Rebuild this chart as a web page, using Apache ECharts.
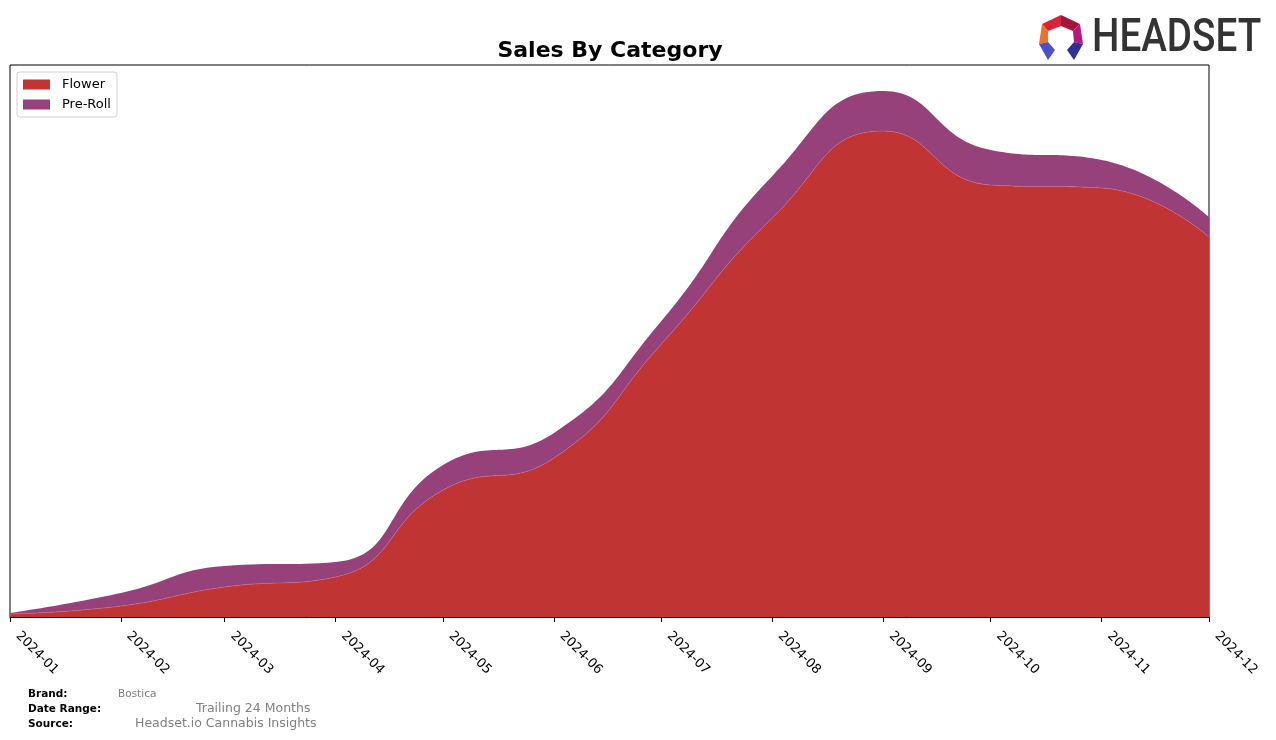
<!DOCTYPE html>
<html>
<head>
<meta charset="utf-8">
<script src="https://cdn.jsdelivr.net/npm/echarts@6/dist/echarts.min.js"></script>
<style>
html,body{margin:0;padding:0;background:#fff;}
#chart{width:1276px;height:740px;}
</style>
</head>
<body>
<div id="chart"></div>
<script>
// Month starts (x categories on a time axis)
const months = ['2024-01-01','2024-02-01','2024-03-01','2024-04-01','2024-05-01','2024-06-01',
                '2024-07-01','2024-08-01','2024-09-01','2024-10-01','2024-11-01','2024-12-01'];
// Values (relative units, no y scale shown)
const flower = [3, 11, 30, 40, 127, 159, 273, 399, 486, 432, 429, 380];
const preRoll = [1, 13, 21, 15, 25, 25, 23, 42, 40, 35, 28, 20];
const seriesNames = ['Flower', 'Pre-Roll'];
const seriesColors = ['#c13434', '#96417a'];
const titleText = 'Sales By Category';
const footerLabels = ['Brand:', 'Date Range:', 'Source:'];
const footerValues = ['Bostica', 'Trailing 24 Months', 'Headset.io Cannabis Insights'];

const chart = echarts.init(document.getElementById('chart'), null, {renderer: 'canvas'});
const FONT = 'DejaVu Sans, Liberation Sans, sans-serif';

function toPairs(vals) { return months.map((m, i) => [m, vals[i]]); }

const option = {
  animation: false,
  backgroundColor: '#fff',
  grid: {left: 10, right: 67, top: 65, bottom: 123, show: true, borderColor: '#000', borderWidth: 1, backgroundColor: 'transparent'},
  legend: {
    left: 17, top: 72, orient: 'vertical',
    data: seriesNames,
    icon: 'rect', itemWidth: 27, itemHeight: 10, itemGap: 7,
    padding: [6, 6, 6, 6],
    borderColor: '#d0d0d0', borderWidth: 1, borderRadius: 3,
    backgroundColor: '#fff',
    textStyle: {fontSize: 13, fontFamily: FONT, color: '#000', padding: [0, 0, 0, 7]}
  },
  xAxis: {
    type: 'time',
    min: months[0], max: months[months.length - 1],
    splitNumber: 11,
    minInterval: 28 * 86400000,
    maxInterval: 31 * 86400000,
    axisLine: {show: true, lineStyle: {color: '#000', width: 1}},
    axisTick: {show: true, length: 5, lineStyle: {color: '#000'}},
    splitLine: {show: false},
    axisLabel: {
      rotate: -45, fontSize: 13, fontFamily: FONT, color: '#000', margin: 9,
      padding: [0, 0, 0, 11],
      showMinLabel: true, showMaxLabel: true, hideOverlap: false,
      formatter: function (v) { return echarts.time.format(v, '{yyyy}-{MM}', false); }
    }
  },
  yAxis: {
    type: 'value', min: 0, max: 552,
    axisLine: {show: false}, axisTick: {show: false}, axisLabel: {show: false}, splitLine: {show: false}
  },
  series: [
    {
      name: seriesNames[0], type: 'line', stack: 'total', smooth: 0.5, symbol: 'none',
      data: toPairs(flower),
      itemStyle: {color: seriesColors[0]},
      lineStyle: {width: 0.6, color: '#c86a80'},
      areaStyle: {color: seriesColors[0], opacity: 1}
    },
    {
      name: seriesNames[1], type: 'line', stack: 'total', smooth: 0.5, symbol: 'none',
      data: toPairs(preRoll),
      itemStyle: {color: seriesColors[1]},
      lineStyle: {width: 0},
      areaStyle: {color: seriesColors[1], opacity: 1}
    }
  ],
  graphic: [
    {type: 'text', x: 610, y: 51, z: 10,
     style: {text: titleText, font: 'bold 22px ' + FONT, fill: '#000', textAlign: 'center', textVerticalAlign: 'middle'}},
    // footer
    {type: 'text', x: 28, y: 694, style: {text: footerLabels[0], font: 'bold 10.5px ' + FONT, fill: '#000', textVerticalAlign: 'middle'}},
    {type: 'text', x: 28, y: 709, style: {text: footerLabels[1], font: 'bold 10.5px ' + FONT, fill: '#000', textVerticalAlign: 'middle'}},
    {type: 'text', x: 28, y: 724, style: {text: footerLabels[2], font: 'bold 10.5px ' + FONT, fill: '#000', textVerticalAlign: 'middle'}},
    {type: 'text', x: 118, y: 694, style: {text: footerValues[0], font: '10.5px ' + FONT, fill: '#808080', textVerticalAlign: 'middle'}},
    {type: 'text', x: 196, y: 709, style: {text: footerValues[1], font: '12.5px ' + FONT, fill: '#808080', textVerticalAlign: 'middle'}},
    {type: 'text', x: 135, y: 724, style: {text: footerValues[2], font: '12.5px ' + FONT, fill: '#808080', textVerticalAlign: 'middle'}},
    // HEADSET logo
    {type: 'text', x: 1092, y: 39, scaleX: 0.84,
     style: {text: 'HEADSET', font: '500 46px Roboto, Liberation Sans, sans-serif', fill: '#333333', textVerticalAlign: 'middle'}},
    {type: 'polygon', shape: {points: [[1061,15],[1042,24],[1048,31],[1061,26]]}, style: {fill: '#d7243a'}},
    {type: 'polygon', shape: {points: [[1061,15],[1080,24],[1073,31],[1061,26]]}, style: {fill: '#a5143f'}},
    {type: 'polygon', shape: {points: [[1042,24],[1039,44],[1048,42],[1048,31]]}, style: {fill: '#f0722a'}},
    {type: 'polygon', shape: {points: [[1080,24],[1083,44],[1074,42],[1073,31]]}, style: {fill: '#b31a80'}},
    {type: 'polygon', shape: {points: [[1039,44],[1048,42],[1055,50],[1048,60]]}, style: {fill: '#4b50c8'}},
    {type: 'polygon', shape: {points: [[1083,44],[1074,42],[1067,50],[1074,60]]}, style: {fill: '#2f2f96'}}
  ]
};
chart.setOption(option);
</script>
</body>
</html>
